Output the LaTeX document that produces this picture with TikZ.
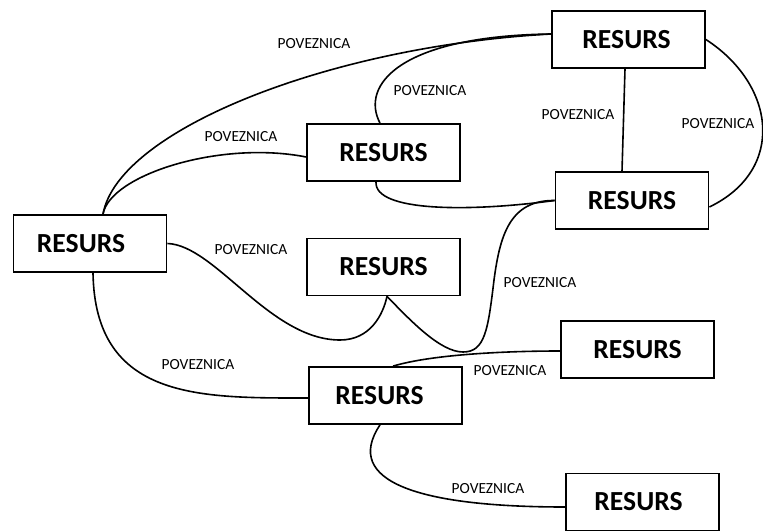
\documentclass[tikz,border=0pt]{standalone}
\usepackage{fontspec}
\setmainfont{Carlito}
\usetikzlibrary{calc}
\tikzset{
  resbox/.style={draw, line width=1.3pt, inner sep=0pt, minimum width=114.75pt, minimum height=42.75pt, font=\bfseries\fontsize{20.7}{22}\selectfont},
  lbl/.style={inner sep=0pt, font=\fontsize{11.6}{13}\selectfont},
  conn/.style={line width=1.2pt},
}
\begin{document}
\begin{tikzpicture}[x=0.75pt,y=-0.75pt]
\useasboundingbox (0,0) rectangle (763,531);
% boxes
\node[resbox] (A) at (628.5,39.5) {\hspace*{-3pt}RESURS};
\node[resbox] (B) at (383.5,152.5) {RESURS};
\node[resbox] (C) at (632,200.5) {RESURS};
\node[resbox] (D) at (90,243.5) {\hspace*{-13.5pt}RESURS};
\node[resbox] (E) at (383.5,267) {RESURS};
\node[resbox] (F) at (637.5,349.5) {RESURS};
\node[resbox] (G) at (385.5,395.5) {\hspace*{-9pt}RESURS};
\node[resbox] (H) at (642.5,502) {\hspace*{-6pt}RESURS};
% labels
\node[lbl] (l1) at (314,44) {POVEZNICA};
\node[lbl] (l2) at (241,137) {POVEZNICA};
\node[lbl] (l3) at (251,250) {POVEZNICA};
\node[lbl] (l4) at (430,91) {POVEZNICA};
\node[lbl] (l5) at (578,115) {POVEZNICA};
\node[lbl] (l6) at (718,124) {POVEZNICA};
\node[lbl] (l7) at (540,283) {POVEZNICA};
\node[lbl] (l8) at (510,371) {POVEZNICA};
\node[lbl] (l9) at (198,365) {POVEZNICA};
\node[lbl] (l10) at (488,489) {POVEZNICA};
% connectors
\draw[conn] ($(D.north)+(13,0)$) .. controls (118,130) and (330,46) .. ($(A.west)+(0,-5.5)$);
\draw[conn] ($(D.north)+(13,0)$) .. controls (110,175) and (220,140) .. ($(B.west)+(0,4.5)$);
\draw[conn] ($(B.north)+(-3.5,0)$) .. controls (360,85) and (400,36) .. ($(A.west)+(0,-5.5)$);
\draw[conn] ($(B.south)+(-7.5,0)$) .. controls (374,212) and (470,212) .. (C.west);
\draw[conn] ($(A.south)+(-3.5,0)$) -- ($(C.north)+(-10,0)$);
\draw[conn] (A.east) .. controls (776,85) and (786,170) .. ($(C.east)+(0,6.5)$);
\draw[conn] (C.west) .. controls (510,200) and (500,235) .. (494,280)
  .. controls (488,330) and (485,352) .. (463,352)
  .. controls (440,352) and (410,320) .. ($(E.south)+(3.5,0)$);
\draw[conn] (D.east) .. controls (215,245) and (270,340) .. (340,340)
  .. controls (370,340) and (383,315) .. ($(E.south)+(3.5,0)$);
\draw[conn] ($(D.south)+(3,0)$) .. controls (95,400) and (200,398) .. ($(G.west)+(0,2.5)$);
\draw[conn] ($(G.north)+(7.5,0)$) .. controls (430,355) and (500,351) .. ($(F.west)+(0,1.5)$);
\draw[conn] ($(G.south)+(-5.5,0)$) .. controls (342,482) and (420,507) .. ($(H.west)+(0,5)$);
\end{tikzpicture}
\end{document}
